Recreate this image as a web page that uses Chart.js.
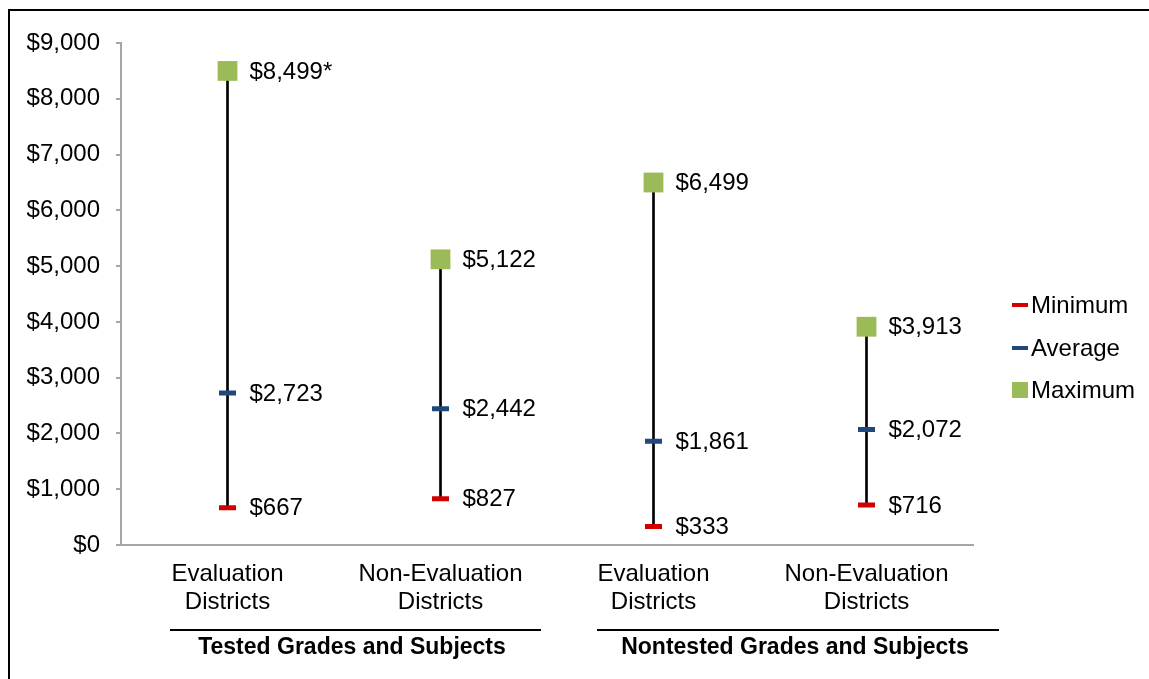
<!DOCTYPE html>
<html>
<head>
<meta charset="utf-8">
<script src="https://cdn.jsdelivr.net/npm/chart.js@4/dist/chart.umd.min.js"></script>
<style>
  html, body { margin: 0; padding: 0; background: #fff; }
  #wrap { width: 1149px; height: 679px; position: relative; }
</style>
</head>
<body>
<div id="wrap"><canvas id="rangeChart" width="1149" height="679"></canvas></div>
<script>
// data
const categories = [
  ['Evaluation', 'Districts'],
  ['Non-Evaluation', 'Districts'],
  ['Evaluation', 'Districts'],
  ['Non-Evaluation', 'Districts']
];
const groupNames = ['Tested Grades and Subjects', 'Nontested Grades and Subjects'];
const minimum = [667, 827, 333, 716];
const average = [2723, 2442, 1861, 2072];
const maximum = [8499, 5122, 6499, 3913];
const maxNotes = ['*', '', '', ''];
const yTicks = [0, 1000, 2000, 3000, 4000, 5000, 6000, 7000, 8000, 9000];

const FONT = "'Liberation Sans', Arial, sans-serif";
const money = v => '$' + v.toLocaleString('en-US');

// frame, value labels, custom legend and group labels
const extras = {
  id: 'extras',
  beforeDraw(chart) {
    const c = chart.ctx;
    c.save();
    c.fillStyle = '#fff';
    c.fillRect(0, 0, chart.width, chart.height);
    c.fillStyle = '#000';
    c.fillRect(8, 9, 2, chart.height - 9);
    c.fillRect(8, 9, chart.width - 8, 2);
    c.restore();
  },
  afterDatasetsDraw(chart) {
    const c = chart.ctx;
    c.save();
    c.font = '24px ' + FONT;
    c.fillStyle = '#000';
    c.textAlign = 'left';
    c.textBaseline = 'middle';
    [1, 2, 3].forEach(di => {
      const meta = chart.getDatasetMeta(di);
      const ds = chart.data.datasets[di];
      meta.data.forEach((pt, i) => {
        const note = di === 3 ? maxNotes[i] : '';
        c.fillText(money(ds.data[i]) + note, pt.x + 22, pt.y + 1);
      });
    });
    c.restore();
  },
  afterDraw(chart) {
    const c = chart.ctx;
    c.save();
    // legend
    const legendY = [305, 348, 390];
    [1, 2, 3].forEach((di, k) => {
      const ds = chart.data.datasets[di];
      const y = legendY[k];
      if (ds.pointStyle === 'rect') {
        c.fillStyle = ds.backgroundColor;
        c.fillRect(1012, y - 8, 16, 16);
      } else {
        c.fillStyle = ds.borderColor;
        c.fillRect(1012, y - 2, 16, 4);
      }
      c.fillStyle = '#000';
      c.font = '24px ' + FONT;
      c.textAlign = 'left';
      c.textBaseline = 'middle';
      c.fillText(ds.label, 1031, y + 1);
    });
    // group labels under the category axis
    const spans = [[170, 541], [597, 999]];
    const centers = [352, 795];
    c.strokeStyle = '#000';
    c.lineWidth = 2;
    groupNames.forEach((name, g) => {
      c.beginPath();
      c.moveTo(spans[g][0], 630);
      c.lineTo(spans[g][1], 630);
      c.stroke();
      c.font = 'bold 23px ' + FONT;
      c.textAlign = 'center';
      c.textBaseline = 'middle';
      c.fillText(name, centers[g], 648);
    });
    c.restore();
  }
};

new Chart(document.getElementById('rangeChart'), {
  data: {
    labels: categories,
    datasets: [
      {
        type: 'bar',
        label: 'Range',
        data: minimum.map((v, i) => [v, maximum[i]]),
        backgroundColor: '#000',
        barThickness: 2,
        order: 10
      },
      {
        type: 'line',
        label: 'Minimum',
        data: minimum,
        showLine: false,
        pointStyle: 'line',
        pointRadius: 8.5,
        pointBorderWidth: 5,
        borderColor: '#D00000',
        backgroundColor: '#D00000',
        order: 1
      },
      {
        type: 'line',
        label: 'Average',
        data: average,
        showLine: false,
        pointStyle: 'line',
        pointRadius: 8.5,
        pointBorderWidth: 5,
        borderColor: '#1F497D',
        backgroundColor: '#1F497D',
        order: 1
      },
      {
        type: 'line',
        label: 'Maximum',
        data: maximum,
        showLine: false,
        pointStyle: 'rect',
        pointRadius: 14,
        pointBorderWidth: 0,
        borderColor: '#9BBB59',
        backgroundColor: '#9BBB59',
        order: 1
      }
    ]
  },
  options: {
    responsive: false,
    animation: false,
    layout: { padding: { left: 0, right: 176, top: 43, bottom: 0 } },
    plugins: {
      legend: { display: false },
      tooltip: { enabled: false }
    },
    scales: {
      x: {
        type: 'category',
        grid: { drawOnChartArea: false, drawTicks: false },
        border: { display: true, color: '#A6A6A6', width: 2 },
        ticks: {
          color: '#000',
          padding: 16,
          maxRotation: 0,
          autoSkip: false,
          font: { family: FONT, size: 24, lineHeight: 1.15 }
        },
        afterFit(scale) { scale.height = 134; }
      },
      y: {
        min: 0,
        max: 9000,
        afterBuildTicks(scale) { scale.ticks = yTicks.map(v => ({ value: v })); },
        grid: { drawOnChartArea: false, drawTicks: true, tickLength: 5, color: '#A6A6A6', lineWidth: 2 },
        border: { display: true, color: '#A6A6A6', width: 2 },
        ticks: {
          color: '#000',
          padding: 16,
          font: { family: FONT, size: 24 },
          callback: v => money(v)
        },
        afterFit(scale) { scale.width = 121; }
      }
    }
  },
  plugins: [extras]
});
</script>
</body>
</html>
